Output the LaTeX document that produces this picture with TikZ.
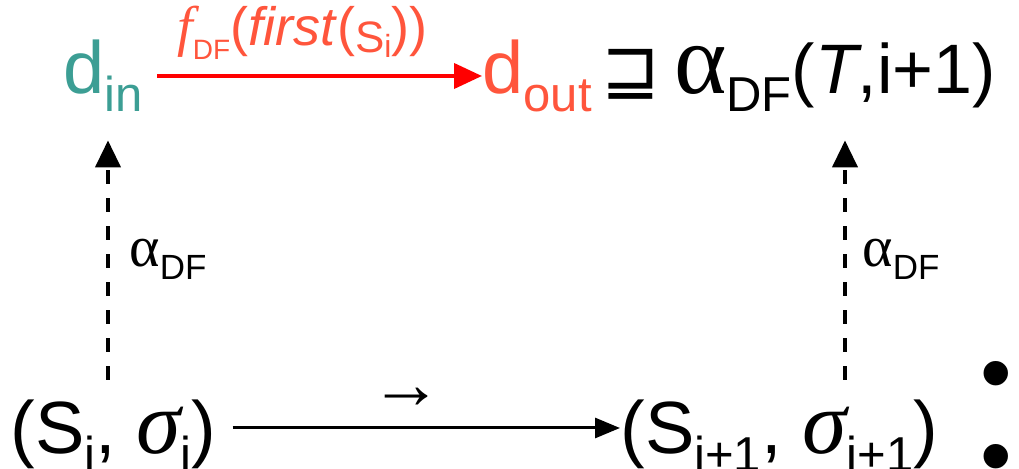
\documentclass[tikz,border=0pt]{standalone}
\usepackage{fontspec}
\setmainfont{Liberation Sans}
\newfontfamily\greekfont{Liberation Serif}
\newfontfamily\symfont{DejaVu Sans}
\usetikzlibrary{arrows.meta}
\definecolor{dinteal}{RGB}{60,158,148}
\definecolor{doutred}{RGB}{255,85,60}
\newcommand{\subtxt}[1]{\raisebox{-9pt}{\fontsize{24.5}{26}\selectfont #1}}
\newcommand{\lblsub}[1]{\raisebox{-6.5pt}{\fontsize{17.5}{19}\selectfont #1}}
\begin{document}
\begin{tikzpicture}[x=0.5pt,y=-0.5pt,
  txt/.style={inner sep=0pt,anchor=base west,font=\fontsize{37}{40}\selectfont},
  redarrow/.style={-{Triangle[length=14pt,width=12.5pt]},line width=2pt,red},
  steparrow/.style={-{Triangle[length=12.5pt,width=10pt]},line width=1.5pt},
  absarrow/.style={-{Triangle[length=13.5pt,width=12.5pt]},line width=2pt,dash pattern=on 7pt off 7pt}]
\useasboundingbox (0,0) rectangle (1019,469);
\node [txt,text=dinteal] (din) at (63,94) {d\subtxt{in}};
\node [txt,text=doutred] (dout) at (482,94) {d\subtxt{out}};
\node [txt,font=\fontsize{35}{40}\selectfont] (rhs) at (601,94) {{\symfont\fontsize{35}{36}\selectfont ⊒}\hspace{7pt}{\greekfont\fontsize{50}{52}\selectfont α}\subtxt{DF}(\textit{T},i+1)};
\node [txt,text=doutred,font=\fontsize{27}{29}\selectfont] (lblf) at (177,46) {{\greekfont\itshape\fontsize{28}{30}\selectfont f}\raisebox{-7pt}{\fontsize{14}{15}\selectfont DF}(\textit{first}(\raisebox{-3.5pt}{\fontsize{22}{23}\selectfont S}\raisebox{-6pt}{\fontsize{16}{17}\selectfont i}))};
\node [txt] (src) at (10,454) {(S\subtxt{i}, {\greekfont\itshape\fontsize{45}{48}\selectfont σ}\subtxt{i})};
\node [txt] (tgt) at (620,454) {(S\subtxt{i+1}, {\greekfont\itshape\fontsize{45}{48}\selectfont σ}\subtxt{i+1})};
\node [inner sep=0pt,align=center,font=\fontsize{45}{38.5}\selectfont] (colon) at (996,424) {•\\[3pt]•};
\node [inner sep=0pt,font=\fontsize{36}{38}\selectfont] (step) at (406,398) {→};
\node [txt,font=\fontsize{29}{31}\selectfont] (lalpha) at (129,267) {{\greekfont α}\lblsub{DF}};
\node [txt,font=\fontsize{29}{31}\selectfont] (ralpha) at (862,267) {{\greekfont α}\lblsub{DF}};
\coordinate (lx) at (108,0);
\coordinate (rx) at (845,0);
\path (src.north -| lx) ++(0,-20) coordinate (lbot);
\path (din.south -| lx) ++(0,28) coordinate (ltop);
\path (tgt.north -| rx) ++(0,-20) coordinate (rbot);
\path (rhs.south -| rx) ++(0,28) coordinate (rtop);
\draw [redarrow,shorten <=7pt] (din.east |- 0,76) -- (dout.west |- 0,76);
\draw [steparrow,shorten <=8pt] (src.east |- 0,428) -- (tgt.west |- 0,428);
\draw [absarrow] (lbot) -- (ltop);
\draw [absarrow] (rbot) -- (rtop);
\end{tikzpicture}
\end{document}
